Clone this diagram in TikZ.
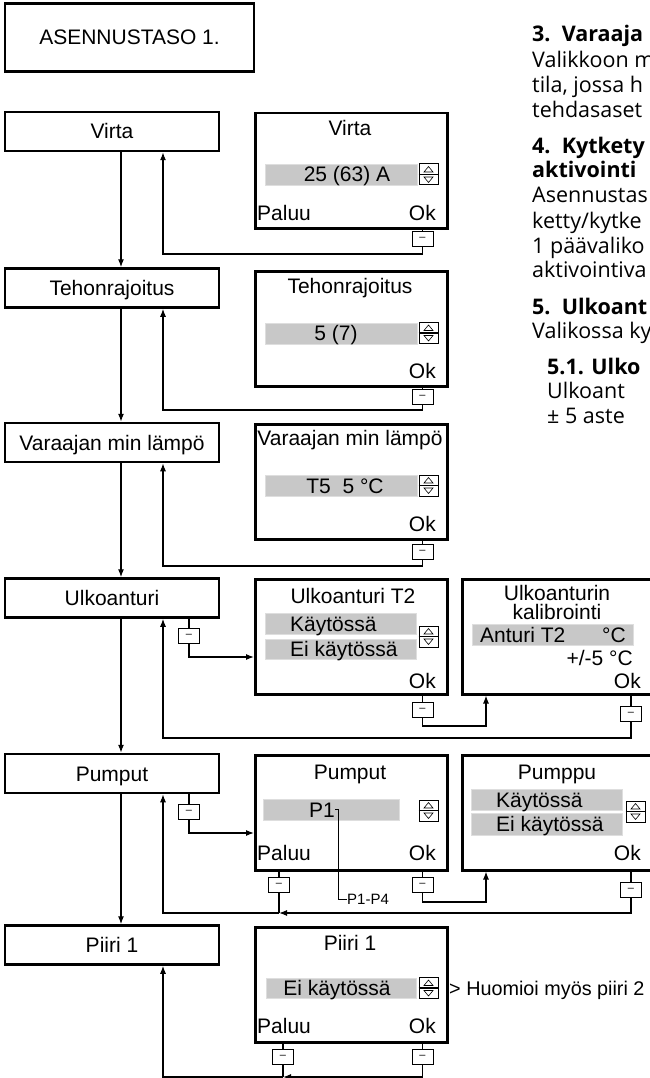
\documentclass[tikz,border=0pt]{standalone}
\usepackage{fontspec}
\setmainfont{Liberation Sans}
\newfontfamily\notefont{Open Sans}
\usetikzlibrary{arrows.meta}

\definecolor{fieldgray}{RGB}{200,200,200}

\begin{document}
\begin{tikzpicture}[x=1pt,y=-1pt,
  every node/.style={inner sep=0pt, font=\fontsize{21}{24}\selectfont},
  menu/.style={draw, line width=2.5pt, minimum width=214pt, minimum height=39pt, text height=15pt, text depth=0pt},
  screen/.style={draw, line width=2.5pt, minimum width=192pt, minimum height=115pt, anchor=north west},
  field/.style={fill=fieldgray, draw=fieldgray!60, line width=0.6pt, anchor=north west, minimum height=21pt},
  updown/.style={draw, line width=1pt, minimum width=19pt, minimum height=21pt},
  key/.style={draw, line width=0.8pt, minimum width=21pt, minimum height=15pt, font=\fontsize{11}{11}\selectfont},
  link/.style={line width=1.2pt},
  arr/.style={line width=1.2pt, -{Latex[length=8pt,width=6pt]}},
  note/.style={anchor=base west, font=\notefont\fontsize{21.5}{24}\selectfont},
  head/.style={anchor=base west, font=\notefont\bfseries\fontsize{21.5}{24}\selectfont}
]
\useasboundingbox (0,0) rectangle (650,1078);

% title
\node[draw, line width=2.5pt, minimum width=249pt, minimum height=68pt, text height=15pt] (title) at (129.5,37.5) {ASENNUSTASO 1.};

% main menu, left column
\node[menu] (virta) at (112,131.5) {Virta};
\node[menu] (teho) at (112,288) {Tehonrajoitus};
\node[menu] (varaaja) at (112,442.5) {Varaajan min lämpö};
\node[menu] (ulko) at (112,598) {Ulkoanturi};
\node[menu] (pumput) at (112,773.5) {Pumput};
\node[menu] (piiri) at (112,945) {Piiri 1};

% screen: Virta
\node[screen] (sV) at (254,112) {};
\node[anchor=base] (sVt) at (350,136) {Virta};
\node[field, minimum width=152pt] (fV) at (265,164) {};
\node[anchor=base] (fVt) at (347,182) {25 (63) A};
\node[updown] (uV) at (428.5,174.5) {};
\node[anchor=base west] (pV) at (257,220) {Paluu};
\node[anchor=base east] (oV) at (436,220) {Ok};
\node[key] (kV) at (422.5,239) {–};

% screen: Tehonrajoitus
\node[screen] (sT) at (254,270) {};
\node[anchor=base] (sTt) at (350,293) {Tehonrajoitus};
\node[field, minimum width=152pt] (fT) at (265,323) {};
\node[anchor=base] (fTt) at (336,340.5) {5 (7)};
\node[updown] (uT) at (428.5,333) {};
\node[anchor=base east] (oT) at (436,378) {Ok};
\node[key] (kT) at (422.5,396.5) {–};

% screen: Varaajan min lampo
\node[screen] (sR) at (254,423) {};
\node[anchor=base] (sRt) at (350,445) {Varaajan min lämpö};
\node[field, minimum width=152pt] (fR) at (265,475) {};
\node[anchor=base] (fRt) at (345,493) {T5\ \ 5 °C};
\node[updown] (uR) at (428.5,485.5) {};
\node[anchor=base east] (oR) at (436,531) {Ok};
\node[key] (kR) at (422.5,552) {–};

% screen: Ulkoanturi T2
\node[screen] (sU) at (254,578) {};
\node[anchor=base] (sUt) at (353,603) {Ulkoanturi T2};
\node[field, minimum width=151pt] (fU1) at (265,613) {};
\node[field, minimum width=151pt, minimum height=20pt] (fU2) at (265,639) {};
\node[anchor=base west] (fU1t) at (290,631) {Käytössä};
\node[anchor=base west] (fU2t) at (290,656.5) {Ei käytössä};
\node[updown] (uU) at (428.5,636.5) {};
\node[anchor=base east] (oU) at (436,688) {Ok};
\node[key] (kU) at (189,636) {–};
\node[key] (kUo) at (422.5,710) {–};

% screen: kalibrointi
\node[screen] (sK) at (461,578) {};
\node[anchor=base] (sKt1) at (557,600) {Ulkoanturin};
\node[anchor=base] (sKt2) at (557,619) {kalibrointi};
\node[field, minimum width=161pt] (fK) at (472,624) {};
\node[anchor=base west] (fKt) at (480,642) {Anturi T2};
\node[anchor=base] (fKu) at (614,642) {°C};
\node[anchor=base east] (fKr) at (633,665) {+/-5 °C};
\node[anchor=base east] (oK) at (641,688) {Ok};
\node[key] (kK) at (631,714) {–};

% screen: Pumput
\node[screen] (sP) at (254,754) {};
\node[anchor=base] (sPt) at (350,779.5) {Pumput};
\node[field, minimum width=136pt] (fP) at (263,799) {};
\node[anchor=base] (p1) at (322,817) {P1};
\node[anchor=base west, font=\fontsize{15}{18}\selectfont] (p14) at (347,904.5) {P1-P4};
\node[updown] (uP) at (428.5,810.5) {};
\node[anchor=base west] (pP) at (257,860) {Paluu};
\node[anchor=base east] (oP) at (436,860) {Ok};
\node[key] (kP) at (189,812) {–};
\node[key] (kPp) at (279,884.5) {–};
\node[key] (kPo) at (422.5,884.5) {–};

% screen: Pumppu
\node[screen] (sQ) at (461,754) {};
\node[anchor=base] (sQt) at (557,779.5) {Pumppu};
\node[field, minimum width=151pt] (fQ1) at (471,789) {};
\node[field, minimum width=151pt, minimum height=22pt] (fQ2) at (471,813) {};
\node[anchor=base west] (fQ1t) at (496,807) {Käytössä};
\node[anchor=base west] (fQ2t) at (496,831.5) {Ei käytössä};
\node[updown] (uQ) at (635.5,811.5) {};
\node[anchor=base east] (oQ) at (641,860) {Ok};
\node[key] (kQ) at (631,890) {–};

% screen: Piiri 1
\node[screen] (sI) at (254,926) {};
\node[anchor=base] (sIt) at (350,950) {Piiri 1};
\node[field, minimum width=150pt, minimum height=20pt] (fI) at (266,978) {};
\node[anchor=base] (fIt) at (337,995.5) {Ei käytössä};
\node[updown] (uI) at (428.5,988) {};
\node[anchor=base west] (pI) at (257,1033) {Paluu};
\node[anchor=base east] (oI) at (436,1033) {Ok};
\node[key] (kIp) at (283,1057) {–};
\node[key] (kIo) at (422.5,1057) {–};
\node[anchor=base west, font=\fontsize{19.8}{24}\selectfont] (huom) at (449,995.5) {> Huomioi myös piiri 2};

% up/down buttons
\foreach \u in {uV,uT,uR,uU,uP,uQ,uI}{
  \draw[line width=1.4pt] (\u.west) -- (\u.east);
  \draw[line width=0.6pt] ([shift={(-4.5pt,2.5pt)}]\u.center) -- ++(9pt,0pt) -- ++(-4.5pt,5.5pt) -- cycle;
  \draw[line width=0.6pt] ([shift={(-4.5pt,-2.5pt)}]\u.center) -- ++(9pt,0pt) -- ++(-4.5pt,-5.5pt) -- cycle;
}

% down the main menu
\draw[arr] ([xshift=9pt]virta.south) -- ([xshift=9pt]teho.north);
\draw[arr] ([xshift=9pt]teho.south) -- ([xshift=9pt]varaaja.north);
\draw[arr] ([xshift=9pt]varaaja.south) -- ([xshift=9pt]ulko.north);
\draw[arr] ([xshift=9pt]ulko.south) -- ([xshift=9pt]pumput.north);
\draw[arr] ([xshift=9pt]pumput.south) -- ([xshift=9pt]piiri.north);

% back from Ok
\coordinate (rV) at (163,254);
\coordinate (rT) at (163,410);
\coordinate (rR) at (163,566);
\draw[link] (sV.south -| kV) -- (kV.north);
\draw[arr] (kV.south) |- (rV) -- (rV |- virta.south);
\draw[link] (sT.south -| kT) -- (kT.north);
\draw[arr] (kT.south) |- (rT) -- (rT |- teho.south);
\draw[link] (sR.south -| kR) -- (kR.north);
\draw[arr] (kR.south) |- (rR) -- (rR |- varaaja.south);

% Ulkoanturi
\coordinate (aU) at (254,657);
\coordinate (tK) at (486,726);
\coordinate (rU) at (163,738);
\draw[link] (ulko.south -| kU) -- (kU.north);
\draw[arr] (kU.south) |- (aU);
\draw[link] (sU.south -| kUo) -- (kUo.north);
\draw[arr] (kUo.south) |- (tK) -- (tK |- sK.south);
\draw[link] (sK.south -| kK) -- (kK.north);
\draw[arr] (kK.south) |- (rU) -- (rU |- ulko.south);

% Pumput
\coordinate (aP) at (254,833);
\coordinate (tQ) at (486,902);
\coordinate (jP) at (279,913);
\coordinate (rP) at (163,913);
\draw[link] (pumput.south -| kP) -- (kP.north);
\draw[arr] (kP.south) |- (aP);
\draw[line width=0.8pt] (p1.east) -- ++(3,0) |- (p14.west);
\draw[link] (sP.south -| kPp) -- (kPp.north);
\draw[link] (sP.south -| kPo) -- (kPo.north);
\draw[link] (sQ.south -| kQ) -- (kQ.north);
\draw[arr] (kPo.south) |- (tQ) -- (tQ |- sQ.south);
\draw[arr] (kQ.south) |- (jP);
\draw[link] (kPp.south) -- (jP);
\draw[arr] (jP) -- (rP) -- (rP |- pumput.south);

% Piiri 1
\coordinate (jI) at (283,1077);
\coordinate (rI) at (163,1077);
\draw[link] (sI.south -| kIp) -- (kIp.north);
\draw[link] (sI.south -| kIo) -- (kIo.north);
\draw[arr] (kIo.south) |- (jI);
\draw[link] (kIp.south) -- (jI);
\draw[arr] (jI) -- (rI) -- (rI |- piiri.south);

% text column on the right
\node[head] (h3) at (532,42) {3.\ \ Varaaja};
\node[note] (t1) at (532,68) {Valikkoon m};
\node[note] (t2) at (532,93) {tila, jossa h};
\node[note] (t3) at (532,118) {tehdasaset};
\node[head] (h4) at (532,154) {4.\ \ Kytkety};
\node[head] (h4b) at (532,178) {aktivointi};
\node[note] (t4) at (532,203) {Asennustas};
\node[note] (t5) at (532,228) {ketty/kytke};
\node[note] (t6) at (532,253) {1 päävaliko};
\node[note] (t7) at (532,277) {aktivointiva};
\node[head] (h5) at (532,314) {5.\ \ Ulkoant};
\node[note] (t8) at (532,338) {Valikossa ky};
\node[head] (h51) at (547,374) {5.1. Ulko};
\node[note] (t9) at (547,398) {Ulkoant};
\node[note] (t10) at (547,423) {± 5 aste};
\end{tikzpicture}
\end{document}
